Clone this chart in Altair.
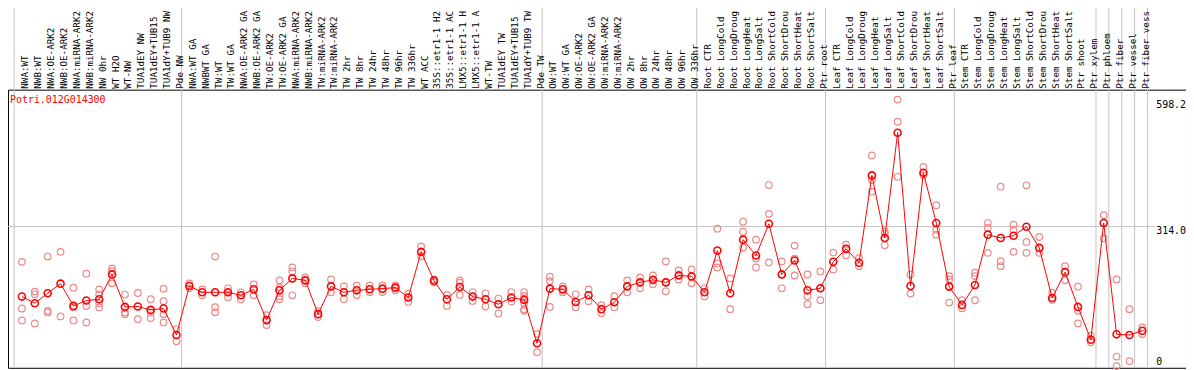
import json
import altair as alt
import pandas as pd

gene = "Potri.012G014300"

labels = [
    "NWA:WT", "NWB:WT", "NWA:OE-ARK2", "NWB:OE-ARK2", "NWA:miRNA-ARK2", "NWB:miRNA-ARK2",
    "NW 0hr", "WT H2O", "WT-NW", "TUA1dEY NW", "TUA1dEY+TUB15", "TUA1dY+TUB9 NW", "Pde NW",
    "NWA:WT GA", "NWBWT GA", "TW:WT", "TW:WT GA", "NWA:OE-ARK2 GA", "NWB:OE-ARK2 GA",
    "TW:OE-ARK2", "TW:OE-ARK2 GA", "NWA:miRNA-ARK2", "NWB:miRNA-ARK2", "TW:miRNA-ARK2",
    "TW:miRNA-ARK2", "TW 2hr", "TW 8hr", "TW 24hr", "TW 48hr", "TW 96hr", "TW 336hr",
    "WT ACC", "35S::etr1-1 H2", "35S::etr1-1 AC", "LMX5::etr1-1 H", "LMX5::etr1-1 A",
    "WT-TW", "TUA1dEY TW", "TUA1dEY+TUB15", "TUA1dY+TUB9 TW", "Pde TW",
    "OW:WT", "OW:WT GA", "OW:OE-ARK2", "OW:OE-ARK2 GA", "OW:miRNA-ARK2", "OW:miRNA-ARK2",
    "OW 2hr", "OW 8hr", "OW 24hr", "OW 48hr", "OW 96hr", "OW 336hr",
    "Root CTR", "Root LongCold", "Root LongDroug", "Root LongHeat", "Root LongSalt",
    "Root ShortCold", "Root ShortDrou", "Root ShortHeat", "Root ShortSalt", "Ptr root",
    "Leaf CTR", "Leaf LongCold", "Leaf LongDroug", "Leaf LongHeat", "Leaf LongSalt",
    "Leaf ShortCold", "Leaf ShortDrou", "Leaf ShortHeat", "Leaf ShortSalt", "Ptr leaf",
    "Stem CTR", "Stem LongCold", "Stem LongDroug", "Stem LongHeat", "Stem LongSalt",
    "Stem ShortCold", "Stem ShortDrou", "Stem ShortHeat", "Stem ShortSalt", "Ptr shoot",
    "Ptr xylem", "Ptr phloem", "Ptr fiber", "Ptr vessel", "Ptr fiber vess",
]

means = [
    157.2, 142.3, 164.6, 186.1, 136.3, 148.3, 151.2, 206.8, 134.1, 135.0, 127.4, 130.5, 71.2,
    180.8, 166.8, 166.8, 166.8, 160.1, 173.4, 104.5, 171.2, 197.9, 193.5, 117.9, 180.1,
    166.8, 171.2, 173.5, 175.0, 177.2, 155.0, 257.3, 192.8, 151.2, 178.6, 157.2, 151.2,
    140.1, 155.0, 149.7, 52.7,
    175.0, 173.4, 145.2, 160.1, 129.0, 144.5, 180.1, 189.0, 194.6, 189.0, 204.6, 202.4,
    166.8, 260.2, 164.6, 284.6, 249.1, 320.2, 206.8, 237.9, 171.2, 175.7,
    235.0, 264.0, 232.8, 428.5, 288.4, 524.1, 180.8, 434.3, 321.8, 179.5,
    138.5, 183.0, 295.8, 288.4, 293.5, 313.5, 266.2, 154.1, 211.9, 134.1,
    60.7, 321.8, 72.7, 71.2, 80.7,
]

replicates = [
    [235.0, 130.5, 103.8], [168.3, 162.3, 97.2], [246.8, 125.2, 121.6], [257.3, 112.7],
    [177.2, 132.8, 103.8], [208.4, 136.3, 99.4], [173.4, 162.3, 142.3, 132.8],
    [220.1, 214.1, 186.8], [161.7, 121.6, 117.9], [165.2, 106.7], [151.2, 121.6, 109.0],
    [175.0, 146.8, 117.9, 99.4], [84.5, 57.1],
    [186.8, 175.7], [173.4, 160.1], [246.8, 133.4, 122.3], [175.7, 166.8, 155.7],
    [166.8, 151.2], [184.6, 160.1], [115.6, 93.4], [193.5, 177.9, 157.9, 151.2],
    [222.4, 213.5, 160.1], [200.2, 186.8], [124.5, 111.2], [195.7, 166.8],
    [180.1, 151.2], [182.3, 160.1], [182.3, 166.8], [182.3, 167.4], [182.3, 177.2, 171.2],
    [163.9, 145.2], [269.7, 247.5], [195.7, 189.0], [160.8, 136.3],
    [193.5, 188.3, 160.8], [167.4, 147.4], [164.6, 135.0], [152.8, 119.4], [167.4, 146.1],
    [167.4, 158.6, 151.2, 142.3, 129.0, 125.2], [73.4, 32.7],
    [201.7, 191.9, 134.1], [180.1, 166.8], [162.3, 133.4], [173.4, 146.8], [137.9, 120.1],
    [157.9, 133.4], [193.5, 166.8], [200.1, 175.7], [204.6, 184.6], [235.7, 169.0],
    [215.7, 195.7], [217.9, 186.8],
    [175.7, 157.9], [309.1, 231.3, 222.4], [197.9, 129.0], [324.7, 302.4, 266.8],
    [284.6, 242.4, 222.4], [406.9, 342.4, 233.5], [235.7, 206.8, 175.7],
    [271.3, 242.4, 204.6], [206.8, 157.9, 140.1], [213.5, 175.7, 149.0],
    [255.7, 217.9], [273.5, 249.7], [243.9, 225.3], [473.0, 418.1, 392.0],
    [303.1, 298.0, 272.0], [598.2, 548.6, 425.4], [206.8, 163.9], [447.6, 429.2],
    [361.8, 306.9, 295.8], [203.0, 195.7, 143.9],
    [149.0, 131.2], [210.6, 203.0, 149.0], [321.8, 310.7, 255.1], [403.2, 236.4, 225.3],
    [318.0, 306.9, 257.3], [406.3, 279.5, 255.1], [290.6, 255.1], [166.1, 149.7],
    [225.3, 193.5], [179.5, 125.2, 97.2],
    [69.6, 54.9], [339.6, 287.5], [195.7, 22.9, 1.6], [129.0, 12.7], [88.3, 73.4],
]

# group boundaries: a separator is drawn after these column numbers
separators_after = [0, 13, 41, 53, 63, 73, 84, 85, 86, 87, 88]

tick_values = [598.2, 314.0, 0.0]
tick_labels = ["598.2", "314.0", "0"]

FONT = "DejaVu Sans Mono"
RED = "#ff0000"
PINK = "#ec8a8a"
GRID = "#c4c4c4"

W, H = 1186, 280

idx = list(range(1, len(labels) + 1))
mean_df = pd.DataFrame({"i": idx, "label": labels, "mean": means})
rep_rows = [{"i": i, "value": v} for i, reps in zip(idx, replicates) for v in reps]
rep_df = pd.DataFrame(rep_rows)
sep_df = pd.DataFrame({"after": separators_after})
tick_df = pd.DataFrame({"v": tick_values, "t": tick_labels})

xscale = alt.Scale(domain=[-0.08, 91.39], nice=False, zero=False)
yscale = alt.Scale(domain=[-2.22, 620.4], nice=False, zero=False)

label_expr = json.dumps(labels) + "[datum.value - 1]"

x_axis = alt.Axis(
    orient="top", values=idx, labelExpr=label_expr, labelAngle=270,
    labelAlign="left", labelBaseline="middle", labelFont=FONT, labelFontSize=9.3,
    labelColor="#000000", labelPadding=1.5, labelOffset=3, labelOverlap=False,
    labelFlush=False, labelBound=False, ticks=False, domain=False, grid=False,
    title=None, zindex=1,
)

seps = alt.Chart(sep_df).transform_calculate(xpos="datum.after + 0.4").mark_rule(
    color=GRID, strokeWidth=1
).encode(
    x=alt.X("xpos:Q", scale=xscale, axis=x_axis),
    y=alt.value(-90), y2=alt.value(H),
)

hline = alt.Chart(tick_df).transform_filter("datum.t == '314.0'").mark_rule(
    color=GRID, strokeWidth=1
).encode(
    y=alt.Y("v:Q", scale=yscale, axis=None),
    x=alt.value(0), x2=alt.value(1155),
)

reps = alt.Chart(rep_df).mark_point(
    shape="circle", size=44, filled=False, color=PINK, strokeWidth=1.2, opacity=1
).encode(
    x=alt.X("i:Q", scale=xscale, axis=x_axis),
    y=alt.Y("value:Q", scale=yscale, axis=None),
)

line = alt.Chart(mean_df).mark_line(color=RED, strokeWidth=1).encode(
    x=alt.X("i:Q", scale=xscale, axis=x_axis),
    y=alt.Y("mean:Q", scale=yscale, axis=None),
)

pts = alt.Chart(mean_df).mark_point(
    shape="circle", size=50, filled=False, color=RED, strokeWidth=1.6, opacity=1
).encode(
    x=alt.X("i:Q", scale=xscale, axis=x_axis),
    y=alt.Y("mean:Q", scale=yscale, axis=None),
)

ylab_top = alt.Chart(tick_df).transform_filter("datum.v > 0").mark_text(
    font=FONT, fontSize=10, color="#000000", align="left", baseline="top"
).encode(
    x=alt.value(1156),
    y=alt.Y("v:Q", scale=yscale, axis=None),
    text="t:N",
)

ylab_bot = alt.Chart(tick_df).transform_filter("datum.v == 0").mark_text(
    font=FONT, fontSize=10, color="#000000", align="left", baseline="bottom"
).encode(
    x=alt.value(1156),
    y=alt.Y("v:Q", scale=yscale, axis=None),
    text="t:N",
)

title_df = pd.DataFrame({"t": [gene]})
gene_text = alt.Chart(title_df).mark_text(
    font=FONT, fontSize=10, color=RED, align="left", baseline="top"
).encode(x=alt.value(2), y=alt.value(5), text="t:N")

chart = alt.layer(
    seps, hline, reps, line, pts, ylab_top, ylab_bot, gene_text
).properties(
    width=W, height=H,
    padding={"left": 0, "top": 81, "right": 0, "bottom": 1},
    autosize=alt.AutoSizeParams(type="none"),
    background="white",
).configure_view(stroke="#000000", strokeWidth=1)

chart.save("out.html", embed_options={"renderer": "svg", "actions": False})
